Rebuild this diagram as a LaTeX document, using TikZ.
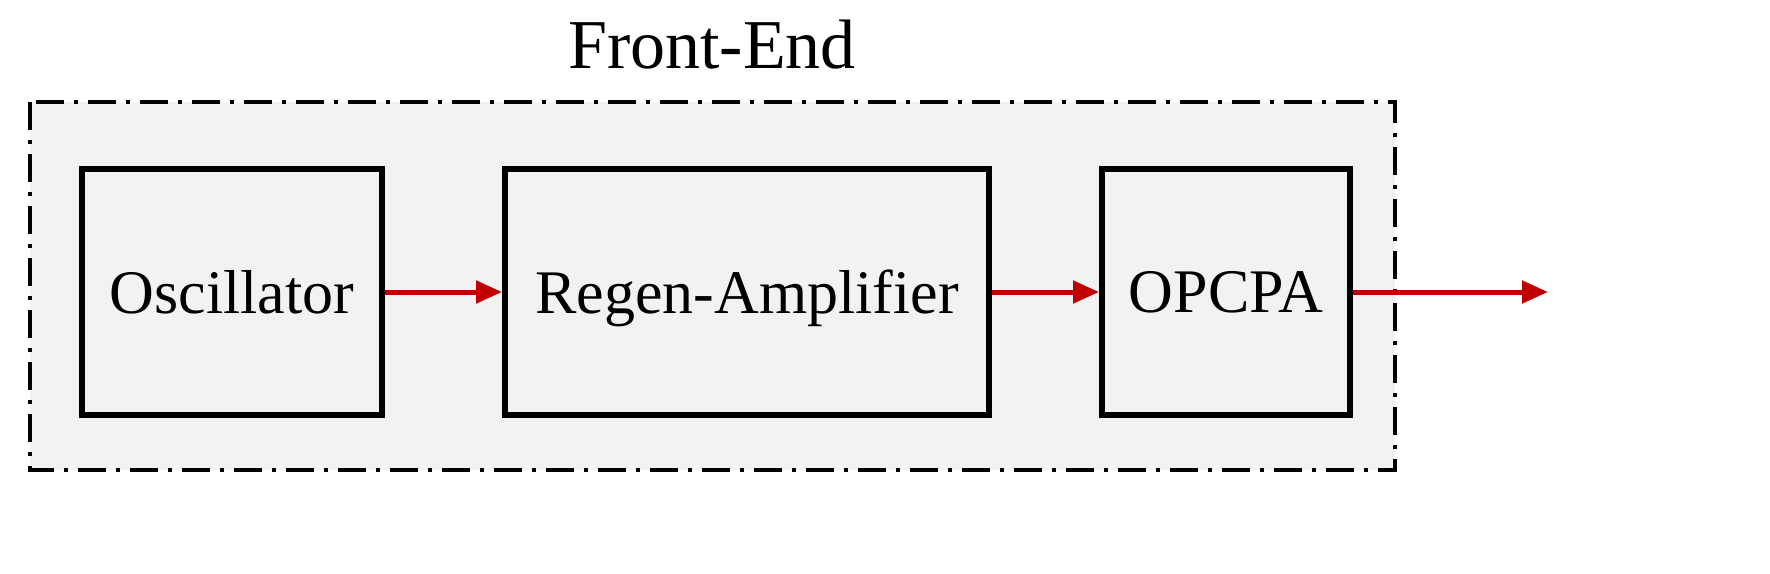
\documentclass[tikz,border=0pt]{standalone}
\usepackage{fontspec}
\setmainfont{Liberation Serif}
\usetikzlibrary{arrows.meta}
\begin{document}
\begin{tikzpicture}[x=0.5pt,y=-0.5pt,
  blk/.style={draw=black,line width=3pt,fill=black!5,inner sep=0pt,text depth=0pt,font=\fontsize{31}{34}\selectfont},
  arr/.style={draw={rgb,255:red,192;green,0;blue,0},line width=2.5pt,-{Triangle[length=13pt,width=11pt]}}]
\useasboundingbox (0,0) rectangle (1770,573);
\draw[line width=2pt,dash pattern=on 14pt off 5pt on 2pt off 5pt,fill=black!5] (30,102) rectangle (1395,470);
\node[font=\fontsize{35}{38}\selectfont] (title) at (712,45) {Front-End};
\node[blk,minimum width=150pt,minimum height=123pt] (osc) at (232,292) {Oscillator};
\node[blk,minimum width=242pt,minimum height=123pt] (reg) at (747,292) {Regen-Amplifier};
\node[blk,minimum width=124pt,minimum height=123pt] (op) at (1226,292) {OPCPA};
\coordinate (out) at (1548,292);
\draw[arr] (osc.east) -- (reg.west);
\draw[arr] (reg.east) -- (op.west);
\draw[arr] (op.east) -- (out);
\end{tikzpicture}
\end{document}
